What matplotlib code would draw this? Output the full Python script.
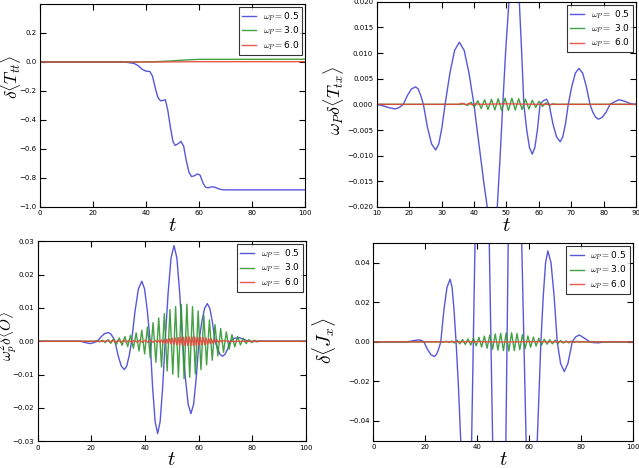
import matplotlib
matplotlib.use("Agg")
import matplotlib.pyplot as plt

# ---- panel (a): delta <T_tt> ----
tt_t_05 = [0, 30, 33, 35.5, 37, 38.5, 40, 41.5, 42.5, 43.5, 44.5, 45.5, 46.5,
           47.3, 48.2, 49.2, 50.2, 51, 52, 53.2, 54.2, 55.2, 56.2, 57.2, 58.2,
           59.4, 60.4, 61.4, 62.4, 63.4, 64.5, 65.8, 67, 68.5, 70, 100]
tt_y_05 = [0, 0, -0.003, -0.01, -0.025, -0.05, -0.063, -0.066, -0.1, -0.18,
           -0.245, -0.268, -0.265, -0.26, -0.33, -0.45, -0.55, -0.575, -0.565,
           -0.548, -0.58, -0.68, -0.76, -0.79, -0.785, -0.772, -0.78, -0.83,
           -0.862, -0.868, -0.862, -0.862, -0.872, -0.88, -0.882, -0.882]
tt_t_30 = [0, 40, 45, 50, 55, 60, 100]
tt_y_30 = [0, 0, 0.003, 0.008, 0.014, 0.018, 0.019]
tt_t_60 = [0, 45, 60, 100]
tt_y_60 = [0, 0, 0.002, 0.002]

# ---- panel (b): omega_P delta <T_tx> ----
tx_t_05 = [10.0, 11.5, 13.5, 15.7, 17.0, 18.2,
           19.47, 20.73, 22.0, 22.8, 23.6, 24.4,
           25.67, 26.93, 28.2, 29.17, 30.13, 31.1,
           32.57, 34.03, 35.5, 37.0, 38.5, 40.0,
           41.5, 43.0, 44.1, 45.6, 47.2, 48.05, 48.9,
           49.8, 50.8, 52.4, 54.0, 54.7, 55.4,
           56.27, 57.13, 58.0, 58.8, 59.6, 60.4,
           61.4, 62.4, 63.2,
           64.33, 65.47, 66.6, 67.43, 68.27, 69.1,
           70.2, 71.3, 72.4, 73.53, 74.67, 75.8,
           76.67, 77.53, 78.4, 79.6, 80.8, 82.0,
           83.4, 84.8, 86.5, 88.0, 89.5, 90.0]
tx_y_05 = [0.0, -0.0002, -0.0006, -0.0009, -0.0006, 0.0,
           0.0017, 0.003, 0.0034, 0.003, 0.0017, 0.0,
           -0.0045, -0.0077, -0.0089, -0.0077, -0.0045, 0.0,
           0.006, 0.0105, 0.0121, 0.0105, 0.006, 0.0,
           -0.0075, -0.015, -0.02, -0.027, -0.02, -0.0105, 0.0,
           0.0105, 0.02, 0.027, 0.02, 0.0105, 0.0,
           -0.0049, -0.0084, -0.0097, -0.0084, -0.0049, 0.0,
           0.0007, 0.001, 0.0,
           -0.0037, -0.0063, -0.0073, -0.0063, -0.0037, 0.0,
           0.0035, 0.0061, 0.007, 0.0061, 0.0035, 0.0,
           -0.0015, -0.0025, -0.0029, -0.0025, -0.0015, 0.0,
           0.0005, 0.0009, 0.0006, 0.0002, 0.0, 0.0]
tx_t_30 = [10, 36, 37.0, 38.05, 39.1, 40.15, 41.2, 42.25, 43.3, 44.35, 45.4,
           46.45, 47.5, 48.55, 49.6, 50.65, 51.7, 52.75, 53.8, 54.85, 55.9,
           56.95, 58.0, 59.05, 60.1, 61.15, 62.2, 63.25, 64.3, 65.5, 90]
tx_y_30 = [0, 0, 0.0001, -0.0002, 0.0004, -0.0005, 0.0007, -0.0008, 0.0009,
           -0.001, 0.001, -0.0011, 0.0011, -0.0012, 0.0012, -0.0012, 0.0012,
           -0.0011, 0.0011, -0.001, 0.001, -0.0009, 0.0008, -0.0006, 0.0006,
           -0.0004, 0.0003, -0.0002, 0.0001, 0, 0]
tx_t_60 = [10, 35, 36.5, 37.5, 38.5, 39.5, 40.5, 42, 50, 60, 90]
tx_y_60 = [0, 0, 0.0002, -0.0001, 0.0002, -0.0001, 0.0001, 0, 0.0001, 0, 0]

# ---- panel (c): omega_p^2 delta <O> ----
o_t_05 = [0, 16, 17.8, 19.5, 21.0, 22.2,
          23.57, 24.93, 26.3, 27.13, 27.97, 28.8,
          29.97, 31.13, 32.3, 33.2, 34.1, 35.0,
          36.27, 37.53, 38.8, 39.83, 40.87, 41.9,
          42.83, 43.77, 44.7, 45.63, 46.57, 47.5,
          48.6, 49.7, 50.8, 51.87, 52.93, 54.0,
          55.03, 56.07, 57.1, 58.1, 59.1, 60.1,
          61.13, 62.17, 63.2, 64.17, 65.13, 66.1,
          67.03, 67.97, 68.9, 69.83, 70.77, 71.7,
          73.3, 75.0, 76.8, 78.5, 80.0, 82.0, 100]
o_y_05 = [0, 0, -0.0004, -0.0007, -0.0004, 0.0,
          0.0013, 0.0023, 0.0026, 0.0023, 0.0013, 0.0,
          -0.0043, -0.0074, -0.0085, -0.0074, -0.0043, 0.0,
          0.009, 0.0157, 0.018, 0.0157, 0.009, 0.0,
          -0.0139, -0.0241, -0.0277, -0.0241, -0.0139, 0.0,
          0.0144, 0.025, 0.0287, 0.025, 0.0144, 0.0,
          -0.0109, -0.0189, -0.0217, -0.0189, -0.0109, 0.0,
          0.0057, 0.0098, 0.0113, 0.0098, 0.0057, 0.0,
          -0.0023, -0.0039, -0.0045, -0.0039, -0.0023, 0.0,
          0.0009, 0.0011, 0.0006, 0.0, -0.0001, 0.0, 0.0]
o_t_30 = [0, 21, 22.0, 23.05, 24.1, 25.15, 26.2, 27.25, 28.3, 29.35, 30.4,
          31.45, 32.5, 33.55, 34.6, 35.65, 36.7, 37.75, 38.8, 39.85, 40.9,
          41.95, 43.0, 44.05, 45.1, 46.15, 47.2, 48.25, 49.3, 50.35, 51.4,
          52.45, 53.5, 54.55, 55.6, 56.65, 57.7, 58.75, 59.8, 60.85, 61.9,
          62.95, 64.0, 65.05, 66.1, 67.15, 68.2, 69.25, 70.3, 71.35, 72.4,
          73.45, 74.5, 75.55, 76.6, 77.65, 78.7, 79.75, 80.8, 81.85, 82.9,
          84, 100]
o_y_30 = [0, 0, 0.0002, -0.0002, 0.0003, -0.0004, 0.0005, -0.0006, 0.0007,
          -0.0009, 0.001, -0.0012, 0.0014, -0.0016, 0.0018, -0.0021, 0.0025,
          -0.0029, 0.0033, -0.0038, 0.0043, -0.0049, 0.0056, -0.0063, 0.007,
          -0.0077, 0.0083, -0.0089, 0.0095, -0.0099, 0.0104, -0.0108, 0.0111,
          -0.0112, 0.0111, -0.0108, 0.0104, -0.0098, 0.0091, -0.0085, 0.0078,
          -0.0071, 0.0064, -0.0057, 0.005, -0.0044, 0.0038, -0.0033, 0.0028,
          -0.0024, 0.002, -0.0017, 0.0014, -0.0011, 0.0009, -0.0007, 0.0005,
          -0.0004, 0.0003, -0.0002, 0.0001, 0, 0]
o_t_60 = [0, 25, 26.0, 27.0, 28.0, 29.0, 30.0, 31.0, 32.0, 33.0, 34.0, 35.0,
          36.0, 37.0, 38.0, 39.0, 40.0, 41.0, 42.0, 43.0,
          44.0, 44.52, 45.04, 45.56, 46.08, 46.6, 47.12, 47.64, 48.16, 48.68,
          49.2, 49.72, 50.24, 50.76, 51.28, 51.8, 52.32, 52.84, 53.36, 53.88,
          54.4, 54.92, 55.44, 55.96, 56.48, 57.0, 57.52, 58.04, 58.56, 59.08,
          59.6, 60.12, 60.64, 61.16, 61.68, 62.2, 62.72, 63.24, 63.76, 64.28,
          64.8, 65.32, 65.84, 66.36, 66.88, 67.4, 67.92, 68.44, 68.96,
          70, 72, 74, 100]
o_y_60 = [0, 0, 0.0002, -0.0002, 0.0003, -0.0003, 0.0003, -0.0003, 0.0003,
          -0.0003, 0.0003, -0.0003, 0.0003, -0.0003, 0.0003, -0.0003, 0.0003,
          -0.0003, 0.0003, -0.0003,
          0.0002, -0.0003, 0.0003, -0.0004, 0.0004, -0.0005, 0.0005, -0.0006,
          0.0006, -0.0007, 0.0008, -0.0008, 0.0009, -0.0009, 0.001, -0.001,
          0.0011, -0.0011, 0.0012, -0.0012, 0.0012, -0.0013, 0.0013, -0.0013,
          0.0013, -0.0013, 0.0013, -0.0013, 0.0013, -0.0013, 0.0012, -0.0012,
          0.0012, -0.0011, 0.0011, -0.001, 0.001, -0.0009, 0.0008, -0.0007,
          0.0007, -0.0006, 0.0005, -0.0004, 0.0004, -0.0003, 0.0002, -0.0002,
          0.0002, 0.0001, -0.0001, 0, 0]

# ---- panel (d): delta <J_x> ----
j_t_05 = [0, 12, 14, 15.8, 17.6, 18.6, 19.5,
          20.83, 22.17, 23.5, 24.33, 25.17, 26.0,
          27.2, 28.4, 29.6, 30.37, 31.13, 31.9,
          32.8, 33.7, 35.8, 37.9, 38.55, 39.2, 42.0, 44.7, 45.35, 46.0,
          48.5, 51.1, 51.55, 52.0, 54.6, 57.2, 58.05, 58.9, 61.0, 63.2,
          64.6, 65.5, 66.4, 67.3, 68.5, 69.7, 70.9,
          72.2, 73.6, 75.0, 76.7, 78.0, 79.4, 81.2, 83.5, 85.0, 86.8, 89, 100]
j_y_05 = [0, 0, 0.0002, 0.0007, 0.001, 0.0007, 0.0,
          -0.0037, -0.0064, -0.0074, -0.0064, -0.0037, 0.0,
          0.0159, 0.0276, 0.0317, 0.0276, 0.0159, 0.0,
          -0.022, -0.05, -0.09, -0.05, 0.0, 0.05, 0.12, 0.05, 0.0, -0.05,
          -0.13, -0.05, 0.0, 0.05, 0.12, 0.05, 0.0, -0.05, -0.09, -0.05,
          0.0, 0.023, 0.04, 0.046, 0.04, 0.023, 0.0,
          -0.011, -0.015, -0.011, 0.0, 0.0025, 0.0035, 0.002, 0.0, -0.0004,
          -0.0005, 0, 0]
j_t_30 = [0, 25, 26.0, 27.05, 28.1, 29.15, 30.2, 31.25, 32.3, 33.35, 34.4,
          35.45, 36.5, 37.55, 38.6, 39.65, 40.7, 41.75, 42.8, 43.85, 44.9,
          45.95, 47.0, 48.05, 49.1, 50.15, 51.2, 52.25, 53.3, 54.35, 55.4,
          56.45, 57.5, 58.55, 59.6, 60.65, 61.7, 62.75, 63.8, 64.85, 65.9,
          66.95, 68.0, 69.05, 70.1, 71.15, 72.2, 73.25, 74.3, 75.35, 76.4,
          77.45, 78.5, 79.55, 80.6, 82, 100]
j_y_30 = [0, 0, 0.0002, -0.0002, 0.0003, -0.0003, 0.0004, -0.0006, 0.0008,
          -0.001, 0.0012, -0.0013, 0.0015, -0.0016, 0.0018, -0.002, 0.0023,
          -0.0026, 0.0029, -0.0032, 0.0035, -0.0038, 0.004, -0.0042, 0.0043,
          -0.0044, 0.0045, -0.0046, 0.0046, -0.0044, 0.0042, -0.004, 0.0037,
          -0.0034, 0.003, -0.0027, 0.0024, -0.0021, 0.0018, -0.0016, 0.0014,
          -0.0012, 0.0011, -0.001, 0.0009, -0.0008, 0.0007, -0.0006, 0.0005,
          -0.0005, 0.0004, -0.0003, 0.0003, -0.0002, 0.0001, 0, 0]
j_t_60 = [0, 30, 40, 50, 60, 70, 100]
j_y_60 = [0, 0, 0.0001, -0.0001, 0.0001, 0, 0]

omega_labels = ['0.5', '3.0', '6.0']

plt.rcParams['mathtext.fontset'] = 'cm'
plt.rcParams['xtick.direction'] = 'in'
plt.rcParams['ytick.direction'] = 'in'
plt.rcParams['xtick.top'] = True
plt.rcParams['ytick.right'] = True
plt.rcParams['xtick.major.size'] = 4
plt.rcParams['ytick.major.size'] = 4

fig = plt.figure(figsize=(6.39, 4.68), dpi=100)

panels = [
    dict(rect=[0.0626, 0.5577, 0.4147, 0.4338],
         curves=[(tt_t_05, tt_y_05), (tt_t_30, tt_y_30), (tt_t_60, tt_y_60)],
         xlim=(0, 100), ylim=(-1.0, 0.4),
         xticks=[0, 20, 40, 60, 80, 100],
         yticks=[-1.0, -0.8, -0.6, -0.4, -0.2, 0.0, 0.2],
         ylabel=r'$\delta\langle T_{tt}\rangle$', ysize=12.5,
         ypos=(-0.066, 0.64), lab_fmt=r'$\omega_P=$' + '{}'),
    dict(rect=[0.5895, 0.5577, 0.4058, 0.4387],
         curves=[(tx_t_05, tx_y_05), (tx_t_30, tx_y_30), (tx_t_60, tx_y_60)],
         xlim=(10, 90), ylim=(-0.02, 0.02),
         xticks=[10, 20, 30, 40, 50, 60, 70, 80, 90],
         yticks=[-0.02, -0.015, -0.01, -0.005, 0.0, 0.005, 0.01, 0.015, 0.02],
         ylabel=r'$\omega_P\delta\langle T_{tx}\rangle$', ysize=13,
         ypos=(-0.118, 0.52), lab_fmt=r'$\omega_P=$ ' + '{}'),
    dict(rect=[0.059, 0.0571, 0.4199, 0.4274],
         curves=[(o_t_05, o_y_05), (o_t_30, o_y_30), (o_t_60, o_y_60)],
         xlim=(0, 100), ylim=(-0.03, 0.03),
         xticks=[0, 20, 40, 60, 80, 100],
         yticks=[-0.03, -0.02, -0.01, 0.0, 0.01, 0.02, 0.03],
         ylabel=r'$\omega_p^2\delta\langle O\rangle$', ysize=11,
         ypos=(-0.068, 0.525), lab_fmt=r'$\omega_P=$ ' + '{}'),
    dict(rect=[0.5842, 0.0583, 0.406, 0.4224],
         curves=[(j_t_05, j_y_05), (j_t_30, j_y_30), (j_t_60, j_y_60)],
         xlim=(0, 100), ylim=(-0.05, 0.05),
         xticks=[0, 20, 40, 60, 80, 100],
         yticks=[-0.04, -0.02, 0.0, 0.02, 0.04],
         ylabel=r'$\delta\langle J_x\rangle$', ysize=14, ypos=(-0.136, 0.508),
         lab_fmt=r'$\omega_P=$' + '{}'),
]

colors = ['#4545d8', '#2f962f', '#e5463a']

for p in panels:
    ax = fig.add_axes(p['rect'])
    for (t, y), c, w in zip(p['curves'], colors, omega_labels):
        ax.plot(t, y, color=c, lw=1.0, alpha=0.9,
                label=p['lab_fmt'].format(w))
    ax.set_xlim(*p['xlim'])
    ax.set_ylim(*p['ylim'])
    ax.set_xticks(p['xticks'])
    ax.set_yticks(p['yticks'])
    ax.tick_params(labelsize=5, pad=2.5)
    ax.set_xlabel(r'$t$', fontsize=15, labelpad=-1)
    ax.set_ylabel(p['ylabel'], fontsize=p['ysize'])
    ax.yaxis.set_label_coords(*p['ypos'])
    leg = ax.legend(loc='upper right', fontsize=6.5, fancybox=False,
                    handlelength=1.6, handletextpad=0.7, borderpad=0.35,
                    labelspacing=0.2, borderaxespad=0.35)
    leg.get_frame().set_edgecolor('black')
    leg.get_frame().set_linewidth(0.8)

fig.savefig('out.png', dpi=100, facecolor='white')
